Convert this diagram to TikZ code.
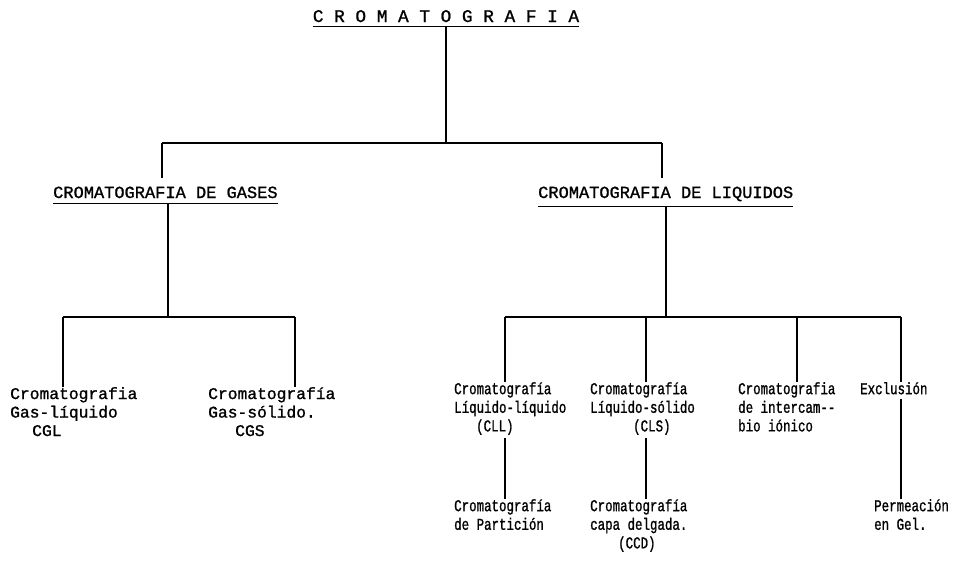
\documentclass[tikz,border=0pt]{standalone}
\usepackage{fontspec}
\usetikzlibrary{calc}
\newfontfamily\tw[FakeBold=1.1]{Liberation Mono}
\newfontfamily\twn[FakeStretch=0.755,FakeBold=1.1]{Liberation Mono}
\begin{document}
\begin{tikzpicture}[x=1pt,y=-1pt,
  ln/.style={line width=1.8pt},
  ul/.style={line width=1.3pt},
  ttl/.style={font=\tw\fontsize{17.75}{20}\selectfont, inner sep=0pt, anchor=base},
  hd/.style={font=\tw\fontsize{17}{20}\selectfont, inner sep=0pt, anchor=base west},
  lt/.style={font=\tw\fontsize{16.3}{18.5}\selectfont, inner sep=0pt, anchor=north west, align=left},
  rt/.style={font=\twn\fontsize{16.5}{18.6}\selectfont, inner sep=0pt, anchor=north west, align=left}]
\useasboundingbox (0,0) rectangle (956,579);

% title
\node[ttl] (title) at (446,22) {C R O M A T O G R A F I A};
\draw[ul] ([yshift=-4pt]title.south west) -- ([yshift=-4pt]title.south east);

% level 1
\coordinate (t0) at (446,143);
\coordinate (tl) at (162,143);
\coordinate (tr) at (662,143);
\node[hd] (gas) at (53,198) {CROMATOGRAFIA DE GASES};
\node[hd] (liq) at (538,198) {CROMATOGRAFIA DE LIQUIDOS};
\draw[ul] ([yshift=-5pt]gas.south west) -- ([yshift=-5pt]gas.south east);
\draw[ul] ([yshift=-5pt]liq.south west) -- ([yshift=-5pt]liq.south east);

\draw[ln] ([yshift=-4pt]title.south) -- (t0);
\draw[ln] (tl) -- (tr);
\draw[ln] (tl) -- ($(tl |- gas.north)+(0,-8)$);
\draw[ln] (tr) -- ($(tr |- liq.north)+(0,-8)$);

% gases branch
\coordinate (gp) at (168,317);
\coordinate (ga) at (63,317);
\coordinate (gb) at (295,317);
\node[lt] (cga) at (10,387) {Cromatografia\\Gas-líquido\\\hspace*{22pt}CGL};
\node[lt] (cgb) at (208,387) {Cromatografía\\Gas-sólido.\\\hspace*{27pt}CGS};
\draw[ln] ($(gp |- gas.south)+(0,5)$) -- (gp);
\draw[ln] (ga) -- (gb);
\draw[ln] (ga) -- (ga |- cga.north);
\draw[ln] (gb) -- (gb |- cgb.north);

% liquidos branch
\coordinate (lp) at (666,317);
\coordinate (la) at (505,317);
\coordinate (lb) at (646,317);
\coordinate (lc) at (797,317);
\coordinate (ld) at (901,317);
\node[rt] (cll) at (454,382) {Cromatografía\\Líquido-líquido\\\hspace*{22pt}(CLL)};
\node[rt] (cls) at (590,382) {Cromatografía\\Líquido-sólido\\\hspace*{43pt}(CLS)};
\node[rt] (cio) at (738,382) {Cromatografia\\de intercam--\\bio iónico};
\node[rt] (exc) at (860,382) {Exclusión};
\draw[ln] ($(lp |- liq.south)+(0,5)$) -- (lp);
\draw[ln] (la) -- (ld);
\draw[ln] (la) -- (la |- cll.north);
\draw[ln] (lb) -- (lb |- cls.north);
\draw[ln] (lc) -- (lc |- cio.north);
\draw[ln] (ld) -- (ld |- exc.north);

% third level
\node[rt] (par) at (454,499) {Cromatografía\\de Partición};
\node[rt] (ccd) at (590,499) {Cromatografía\\capa delgada.\\\hspace*{28pt}(CCD)};
\node[rt] (gel) at (874,499) {Permeación\\en Gel.};
\draw[ln] ($(la |- cll.south)+(0,3)$) -- (la |- par.north);
\draw[ln] ($(lb |- cls.south)+(0,3)$) -- (lb |- ccd.north);
\draw[ln] ($(ld |- exc.south)+(0,4)$) -- (ld |- gel.north);
\end{tikzpicture}
\end{document}
